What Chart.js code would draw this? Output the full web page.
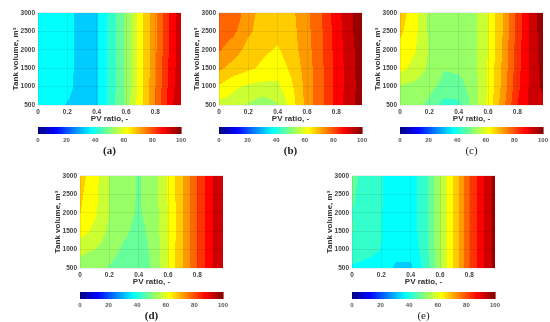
<!DOCTYPE html>
<html>
<head>
<meta charset="utf-8">
<script src="https://cdn.jsdelivr.net/npm/chart.js@4.4.1/dist/chart.umd.min.js"></script>
<style>
  html, body { margin: 0; padding: 0; background: #fff; }
  body { width: 550px; height: 322px; position: relative; overflow: hidden; }
</style>
</head>
<body>
<script>
// grid the maps were read on (columns = PV ratio, rows = tank volume, 500 first)
const pvRatios = [0, 0.1, 0.2, 0.3, 0.4, 0.5, 0.6, 0.7, 0.8, 0.9, 0.975];
const tankVolumes = [500, 1000, 1500, 2000, 2500, 3000];
const xTicks = [0, 0.2, 0.4, 0.6, 0.8];
const yTicks = [500, 1000, 1500, 2000, 2500, 3000];
const barTicks = [0, 20, 40, 60, 80, 100];
const levelStep = 5;

const panelA = [
  [37, 36.5, 34.7, 33, 34.5, 42.5, 51.5, 63.5, 75.5, 88, 95],
  [37, 37, 36.3, 33, 34.5, 42.5, 51.2, 63.2, 74.8, 87, 94],
  [37, 37, 36.5, 33, 34.5, 42.5, 51, 63, 74.3, 86.5, 93.5],
  [37, 37, 36.5, 33, 34.5, 42.5, 51, 63, 74, 86, 93],
  [37, 37, 36.5, 33, 34.5, 42.5, 51, 63, 74, 86, 93],
  [37, 37, 36.5, 33, 34.5, 42.5, 51, 63, 74, 86, 93]
];
const panelB = [
  [58, 57.5, 54.5, 52, 54.5, 63, 72, 79, 86.5, 94, 97],
  [64.5, 61, 59, 58.5, 59, 64.5, 72, 79, 86.5, 93.5, 97],
  [71, 68, 66, 64, 62, 66.5, 72.5, 79, 86.5, 93.5, 97.5],
  [75.5, 72.5, 68, 66, 64.5, 68, 73, 79.5, 87, 93.5, 98],
  [78, 76, 71, 67.5, 66.5, 68.5, 73.5, 79.5, 87.5, 94, 99],
  [79, 78.5, 72, 68, 67, 69, 74, 80, 88, 94, 100]
];
const panelC = [
  [52.5, 51.5, 49, 43, 44, 52, 61, 73, 85, 92, 94],
  [54.5, 53.5, 51.5, 48.5, 48, 52.5, 60.5, 71.5, 83.5, 92, 96],
  [61.5, 58.5, 54, 50.2, 51, 53, 60.5, 71, 83, 92, 97],
  [63.5, 60.5, 54.5, 52, 52, 53.5, 60, 70.5, 82.5, 92, 97.5],
  [66, 61.5, 54, 52, 52, 53.5, 60, 70, 82, 92, 98],
  [67.5, 62, 54, 52, 52, 53.5, 60, 70, 82, 92, 99]
];
const panelD = [
  [53.5, 52, 49.5, 47, 47.5, 50.5, 60, 70, 80.5, 89.5, 93.5],
  [56, 55, 52.5, 49, 48, 51, 60, 70, 80.5, 89.5, 93.5],
  [62.5, 58.5, 54, 51, 48.5, 51.5, 60, 69.5, 80, 89.5, 93.5],
  [65.2, 61, 55, 51.5, 49.5, 52, 60, 69.5, 80, 89.5, 94],
  [66, 61.5, 55, 52, 49.5, 52.5, 60.5, 69.5, 80, 89.5, 94],
  [67, 62, 55, 52, 49.5, 52.5, 60.5, 69.5, 80, 89.5, 94]
];
const panelE = [
  [39, 38.5, 38, 34, 34, 42, 54.5, 66, 79.5, 90, 97],
  [43.5, 41.5, 40, 37, 37, 42.5, 54.5, 66, 79.5, 90, 97],
  [45.2, 42.5, 40.1, 37.5, 37.5, 43, 54.5, 66, 79.5, 90, 97],
  [45, 43, 40.2, 37.5, 37.5, 43, 54.5, 66, 79.5, 90, 97],
  [45.5, 43.5, 40.3, 37.5, 37.5, 43, 54.5, 66, 79.5, 90, 97],
  [46, 43.5, 40.3, 37.5, 37.5, 43, 54.5, 66, 79.5, 90, 97]
];

const sansFamily = '"Liberation Sans", Arial, sans-serif';
const serifFamily = '"Liberation Serif", "Times New Roman", serif';

function jet(t) {
  const c = v => Math.round(255 * Math.max(0, Math.min(1, v)));
  return [c(1.5 - Math.abs(4 * t - 3)), c(1.5 - Math.abs(4 * t - 2)), c(1.5 - Math.abs(4 * t - 1))];
}

function clamp01(v) { return Math.max(0, Math.min(1, v)); }

// bilinear value of a panel at (pv, volume)
function sampleGrid(grid, xv, yv) {
  let i = 0;
  while (i < pvRatios.length - 2 && xv > pvRatios[i + 1]) i++;
  let j = 0;
  while (j < tankVolumes.length - 2 && yv > tankVolumes[j + 1]) j++;
  const tx = clamp01((xv - pvRatios[i]) / (pvRatios[i + 1] - pvRatios[i]));
  const ty = clamp01((yv - tankVolumes[j]) / (tankVolumes[j + 1] - tankVolumes[j]));
  return grid[j][i] * (1 - tx) * (1 - ty) + grid[j][i + 1] * tx * (1 - ty) +
    grid[j + 1][i] * (1 - tx) * ty + grid[j + 1][i + 1] * tx * ty;
}

// filled contours, painted before the grid so the grid lines sit on top
const contourFill = {
  id: 'contourFill',
  beforeDraw(chart, args, opts) {
    if (!opts.grid) return;
    const { ctx, chartArea: a, scales: { x, y } } = chart;
    const left = Math.round(a.left), top = Math.round(a.top);
    const w = Math.round(a.right) - left, h = Math.round(a.bottom) - top;
    const img = ctx.createImageData(w, h);
    const nBands = 100 / levelStep;
    for (let py = 0; py < h; py++) {
      const yv = y.getValueForPixel(top + py + 0.5);
      for (let px = 0; px < w; px++) {
        const xv = x.getValueForPixel(left + px + 0.5);
        const z = sampleGrid(opts.grid, xv, yv);
        const band = Math.max(0, Math.min(nBands - 1, Math.floor(z / levelStep)));
        const col = jet((band + 0.5) * levelStep / 100);
        const k = (py * w + px) * 4;
        img.data[k] = col[0];
        img.data[k + 1] = col[1];
        img.data[k + 2] = col[2];
        img.data[k + 3] = 255;
      }
    }
    ctx.putImageData(img, left, top);
  }
};

const colorBar = {
  id: 'colorBar',
  beforeDraw(chart) {
    const { ctx, chartArea: a, scales: { x } } = chart;
    const step = 0.5;
    for (let v = 0; v < 100; v += step) {
      const x0 = x.getPixelForValue(v), x1 = x.getPixelForValue(v + step);
      const col = jet((v + step / 2) / 100);
      ctx.fillStyle = `rgb(${col[0]},${col[1]},${col[2]})`;
      ctx.fillRect(x0, a.top, x1 - x0 + 0.6, a.bottom - a.top);
    }
  }
};

function addCanvas(left, top, w, h) {
  const c = document.createElement('canvas');
  c.width = w;
  c.height = h;
  c.style.cssText = `position:absolute;left:${left}px;top:${top}px;width:${w}px;height:${h}px`;
  document.body.appendChild(c);
  return c;
}

const tickFont = { family: sansFamily, size: 6.5, weight: 'bold' };
const titleFont = { family: sansFamily, size: 8, weight: 'bold' };

function makePanel(grid, left, top) {
  const canvas = addCanvas(left, top, 185, 119);
  new Chart(canvas, {
    type: 'scatter',
    data: { datasets: [{ data: [] }] },
    options: {
      responsive: false,
      animation: false,
      events: [],
      layout: { padding: { top: 6, right: 4, left: 2, bottom: 0 } },
      plugins: {
        legend: { display: false },
        tooltip: { enabled: false },
        contourFill: { grid: grid }
      },
      scales: {
        x: {
          type: 'linear', min: 0, max: 0.975,
          afterBuildTicks: s => { s.ticks = xTicks.map(v => ({ value: v })); },
          afterFit: s => { s.height = 20; },
          grid: { color: 'rgba(0,0,0,0.08)', drawTicks: false },
          border: { display: false },
          ticks: { padding: 3, font: tickFont, color: '#444', maxRotation: 0, autoSkip: false, callback: v => String(v) },
          title: { display: true, text: 'PV ratio, -', font: titleFont, color: '#333', padding: { top: 0, bottom: 1 } }
        },
        y: {
          type: 'linear', min: 500, max: 3000,
          afterBuildTicks: s => { s.ticks = yTicks.map(v => ({ value: v })); },
          afterFit: s => { s.width = 36; },
          grid: { color: 'rgba(0,0,0,0.08)', drawTicks: false },
          border: { display: false },
          ticks: { padding: 3, font: tickFont, color: '#444', autoSkip: false, callback: v => String(v) },
          title: { display: true, text: 'Tank volume, m³', font: titleFont, color: '#333', padding: { top: 9, bottom: 0 } }
        }
      }
    },
    plugins: [contourFill]
  });
}

function makeBar(label, weight, left, top) {
  const canvas = addCanvas(left, top, 159, 33);
  new Chart(canvas, {
    type: 'scatter',
    data: { datasets: [{ data: [] }] },
    options: {
      responsive: false,
      animation: false,
      events: [],
      layout: { padding: { top: 0, right: 8, left: 8, bottom: 0 } },
      plugins: { legend: { display: false }, tooltip: { enabled: false } },
      scales: {
        x: {
          type: 'linear', min: 0, max: 100,
          afterBuildTicks: s => { s.ticks = barTicks.map(v => ({ value: v })); },
          afterFit: s => { s.height = 26; },
          grid: { display: false, drawTicks: false },
          border: { display: false },
          ticks: { padding: 3, font: { family: sansFamily, size: 6, weight: 'bold' }, color: '#555', maxRotation: 0, autoSkip: false },
          title: { display: true, text: label, font: { family: serifFamily, size: 11, weight: weight }, color: '#222', padding: { top: 0, bottom: 2 } }
        },
        y: { display: false, min: 0, max: 1 }
      }
    },
    plugins: [colorBar]
  });
}

makePanel(panelA, 0, 6);
makePanel(panelB, 181, 6);
makePanel(panelC, 362, 6);
makePanel(panelD, 42, 169);
makePanel(panelE, 314, 169);

makeBar('(a)', 'bold', 30, 127);
makeBar('(b)', 'bold', 211, 127);
makeBar('(c)', 'normal', 392, 127);
makeBar('(d)', 'bold', 72, 292);
makeBar('(e)', 'normal', 344, 292);
</script>
</body>
</html>
